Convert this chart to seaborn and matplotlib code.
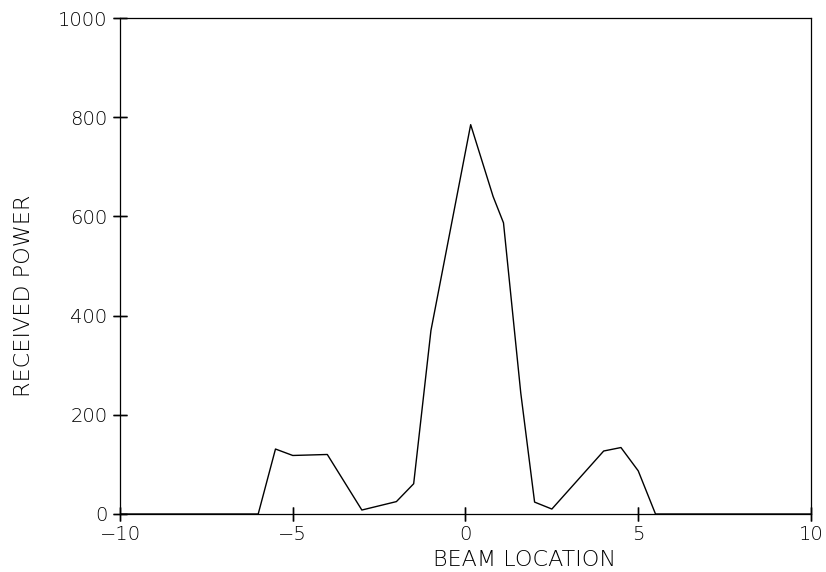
import matplotlib
matplotlib.use("Agg")
import matplotlib.pyplot as plt
import seaborn as sns
import pandas as pd

beam_location = [-10, -6, -5.5, -5, -4, -3, -2, -1.5, -1, 0.15, 0.8, 1.1, 1.6, 2, 2.5, 4, 4.5, 5, 5.5, 10]
received_power = [0, 0, 131, 118, 120, 8, 25, 61, 370, 785, 640, 587, 244, 24, 10, 127, 134, 87, 0, 0]
x_ticks = [-10, -5, 0, 5, 10]
y_ticks = [0, 200, 400, 600, 800, 1000]

df = pd.DataFrame({"BEAM LOCATION": beam_location, "RECEIVED POWER": received_power})

sns.set_theme(style="ticks", rc={
    'xtick.direction': 'inout', 'ytick.direction': 'inout',
    'xtick.major.size': 10, 'ytick.major.size': 10,
    'xtick.major.width': 1.0, 'ytick.major.width': 1.0,
    'xtick.color': 'black', 'ytick.color': 'black',
    'axes.edgecolor': 'black', 'axes.linewidth': 0.9,
    'text.color': 'black', 'axes.labelcolor': 'black',
    'axes.axisbelow': False,
})
plt.rcParams['font.family'] = ['DejaVu Sans']

fig = plt.figure(figsize=(8.26, 5.72), dpi=100)
ax = fig.add_axes([0.1453, 0.1014, 0.8365, 0.8671])
sns.lineplot(data=df, x="BEAM LOCATION", y="RECEIVED POWER", ax=ax, color="black",
             linewidth=1.0, sort=False, estimator=None)

ax.set_xlim(-10, 10)
ax.set_ylim(0, 1000)
ax.set_xticks(x_ticks)
ax.set_yticks(y_ticks)
ax.set_xticklabels([str(t).replace('-', '\u2212') for t in x_ticks], fontsize=14, fontweight='light')
ax.set_yticklabels([str(t) for t in y_ticks], fontsize=14, fontweight='light')
ax.tick_params(bottom=True, left=True, top=False, right=False)
ax.tick_params(axis='x', pad=3)
ax.tick_params(axis='y', pad=4)

# explicit tick marks crossing the bottom and left axes (in axis-blended coordinates)
ax.plot(x_ticks, [0] * len(x_ticks), transform=ax.get_xaxis_transform(), ls='none',
        marker='|', ms=10, mew=1.0, color='black', clip_on=False, zorder=5)
ax.plot([0] * len(y_ticks), y_ticks, transform=ax.get_yaxis_transform(), ls='none',
        marker='_', ms=10, mew=1.0, color='black', clip_on=False, zorder=5)

ax.set_xlabel("BEAM LOCATION", fontsize=16, fontweight='light', color='black')
ax.set_ylabel("RECEIVED POWER", fontsize=16, fontweight='light', color='black')
ax.xaxis.set_label_coords(0.585, -0.072)
ax.yaxis.set_label_coords(-0.125, 0.44)

fig.savefig("out.png", dpi=100)
